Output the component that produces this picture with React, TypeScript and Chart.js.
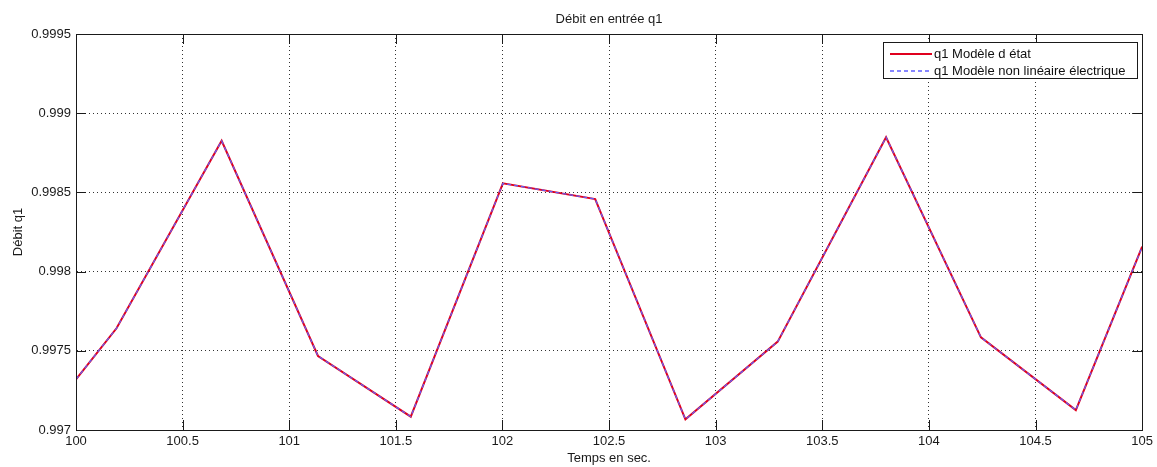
import React, { useEffect, useRef } from "react";
import { Chart, registerables } from "chart.js";

Chart.register(...registerables);

const chartTitle = "Débit en entrée q1";
const xAxisTitle = "Temps en sec.";
const yAxisTitle = "Débit q1";

const timeValues = [100, 100.19, 100.683, 101.135, 101.57, 102.002, 102.435, 102.858, 103.291, 103.799, 104.244, 104.689, 105];
const stateModelValues = [0.99732, 0.997642, 0.998826, 0.997467, 0.997084, 0.998557, 0.998458, 0.997067, 0.997558, 0.998848, 0.997585, 0.997126, 0.998157];
const nonlinearModelValues = [0.99732, 0.997642, 0.998826, 0.997467, 0.997084, 0.998557, 0.998458, 0.997067, 0.997558, 0.998848, 0.997585, 0.997126, 0.998157];

const seriesLabels = ["q1 Modèle d état", "q1 Modèle non linéaire électrique"];

const xTicks = [100, 100.5, 101, 101.5, 102, 102.5, 103, 103.5, 104, 104.5, 105];
const xTickLabels = ["100", "100.5", "101", "101.5", "102", "102.5", "103", "103.5", "104", "104.5", "105"];
const yTicks = [0.997, 0.9975, 0.998, 0.9985, 0.999, 0.9995];
const yTickLabels = ["0.997", "0.9975", "0.998", "0.9985", "0.999", "0.9995"];

const FONT = "'Liberation Sans', Arial, Helvetica, sans-serif";

const matlabDecor = {
  id: "matlabDecor",
  afterDatasetsDraw(chart: any) {
    const { ctx, chartArea } = chart;
    const xs = chart.scales.x;
    const ys = chart.scales.y;
    const { left, right, top, bottom } = chartArea;
    ctx.save();
    ctx.strokeStyle = "#1a1a1a";
    ctx.lineWidth = 1;
    ctx.setLineDash([]);
    const tl = 10;
    ctx.beginPath();
    xTicks.forEach((v) => {
      const px = Math.round(xs.getPixelForValue(v)) + 0.5;
      ctx.moveTo(px, bottom);
      ctx.lineTo(px, bottom - tl);
      ctx.moveTo(px, top);
      ctx.lineTo(px, top + tl);
    });
    yTicks.forEach((v) => {
      const py = Math.round(ys.getPixelForValue(v)) + 0.5;
      ctx.moveTo(left, py);
      ctx.lineTo(left + tl, py);
      ctx.moveTo(right, py);
      ctx.lineTo(right - tl, py);
    });
    ctx.stroke();
    ctx.strokeRect(Math.round(left) + 0.5, Math.round(top) + 0.5, Math.round(right - left), Math.round(bottom - top));

    // legend
    const bx = 883.5, by = 42.5, bw = 254, bh = 36;
    ctx.fillStyle = "#ffffff";
    ctx.fillRect(bx, by, bw, bh);
    ctx.strokeStyle = "#1a1a1a";
    ctx.strokeRect(bx, by, bw, bh);
    ctx.font = `13px ${FONT}`;
    ctx.textBaseline = "middle";
    ctx.textAlign = "left";
    const rows = [54, 71];
    chart.data.datasets.forEach((ds: any, i: number) => {
      const y = rows[i];
      ctx.save();
      ctx.strokeStyle = ds.borderColor;
      ctx.lineWidth = Math.max(ds.borderWidth, 1.6);
      ctx.setLineDash(ds.borderDash || []);
      ctx.beginPath();
      ctx.moveTo(890, y);
      ctx.lineTo(932, y);
      ctx.stroke();
      ctx.restore();
      ctx.fillStyle = "#111";
      ctx.fillText(ds.label, 934, y);
    });
    ctx.restore();
  },
};

export default function App() {
  const canvasRef = useRef<HTMLCanvasElement | null>(null);

  useEffect(() => {
    if (!canvasRef.current) return;
    Chart.defaults.font.family = FONT;
    Chart.defaults.font.size = 13;
    Chart.defaults.color = "#1a1a1a";
    const chart = new Chart(canvasRef.current, {
      type: "line",
      data: {
        datasets: [
          {
            label: seriesLabels[0],
            data: timeValues.map((t, i) => ({ x: t, y: stateModelValues[i] })),
            borderColor: "#e0001e",
            borderWidth: 2,
            pointRadius: 0,
            tension: 0,
            fill: false,
            order: 2,
          },
          {
            label: seriesLabels[1],
            data: timeValues.map((t, i) => ({ x: t, y: nonlinearModelValues[i] })),
            borderColor: "rgb(95,95,255)",
            borderWidth: 1.2,
            borderDash: [4, 3],
            pointRadius: 0,
            tension: 0,
            fill: false,
            order: 1,
          },
        ],
      },
      options: {
        animation: false,
        responsive: false,
        maintainAspectRatio: false,
        events: [],
        layout: { padding: { left: 0, right: 14, top: 0, bottom: 0 } },
        plugins: {
          legend: { display: false },
          tooltip: { enabled: false },
          title: {
            display: true,
            text: chartTitle,
            fullSize: false,
            color: "#1a1a1a",
            font: { size: 13, weight: "normal", family: FONT },
            padding: { top: 11.2, bottom: 7.2 },
          },
        },
        scales: {
          x: {
            type: "linear",
            min: 100,
            max: 105,
            afterBuildTicks: (scale: any) => {
              scale.ticks = xTicks.map((v) => ({ value: v }));
            },
            afterFit: (scale: any) => {
              scale.height = 37;
            },
            ticks: {
              padding: 4,
              maxRotation: 0,
              autoSkip: false,
              color: "#1a1a1a",
              callback: (value: any) => {
                const idx = xTicks.indexOf(Number(value));
                return idx >= 0 ? xTickLabels[idx] : "";
              },
            },
            grid: { color: "rgba(0,0,0,0.8)", drawTicks: false, lineWidth: 1 },
            border: { display: true, color: "#1a1a1a", dash: [1, 3] },
            title: {
              display: true,
              text: xAxisTitle,
              color: "#1a1a1a",
              font: { size: 13, family: FONT },
              padding: { top: 0, bottom: 1.2 },
            },
          },
          y: {
            type: "linear",
            min: 0.997,
            max: 0.9995,
            afterBuildTicks: (scale: any) => {
              scale.ticks = yTicks.map((v) => ({ value: v }));
            },
            afterFit: (scale: any) => {
              scale.width = 76;
            },
            ticks: {
              padding: 5,
              autoSkip: false,
              color: "#1a1a1a",
              callback: (value: any) => {
                const idx = yTicks.findIndex((v) => Math.abs(v - Number(value)) < 1e-9);
                return idx >= 0 ? yTickLabels[idx] : "";
              },
            },
            grid: { color: "rgba(0,0,0,0.8)", drawTicks: false, lineWidth: 1 },
            border: { display: true, color: "#1a1a1a", dash: [1, 3] },
            title: {
              display: true,
              text: yAxisTitle,
              color: "#1a1a1a",
              font: { size: 13, family: FONT },
              padding: { top: 10.2, bottom: 0 },
            },
          },
        },
      },
      plugins: [matlabDecor],
    });
    return () => chart.destroy();
  }, []);

  return (
    <div style={{ position: "fixed", left: 0, top: 0, width: 1157, height: 467, background: "#fff" }}>
      <canvas ref={canvasRef} width={1157} height={467} style={{ width: 1157, height: 467, display: "block" }} />
    </div>
  );
}
